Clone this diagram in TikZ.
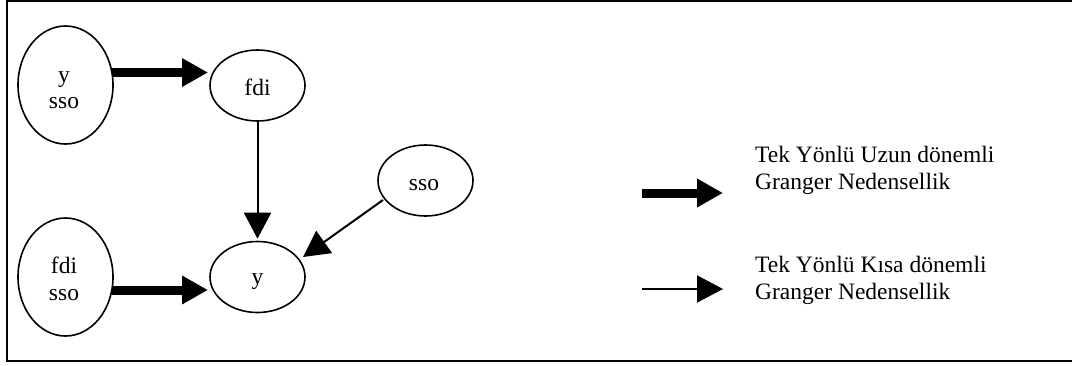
\documentclass[tikz,border=0pt]{standalone}
\usepackage{fontspec}
\setmainfont{Liberation Serif}
\usetikzlibrary{arrows.meta,shapes.geometric,calc}
\begin{document}
\begin{tikzpicture}[x=1pt,y=-1pt,
  oval/.style={draw,ellipse,line width=1.6pt,inner sep=0pt},
  bigoval/.style={oval,minimum width=95pt,minimum height=118pt},
  smalloval/.style={oval,minimum width=95pt,minimum height=71pt},
  lab/.style={font=\fontsize{23.5}{27}\selectfont,inner sep=0pt,anchor=base},
  legtext/.style={font=\fontsize{23.5}{27}\selectfont,inner sep=0pt,anchor=base west},
  strong/.style={line width=9pt,-{Triangle[length=26pt,width=27pt]}},
  weak/.style={line width=2pt,-{Triangle[length=26pt,width=27pt]}}]
\useasboundingbox (0,0) rectangle (1072,365);
\draw[line width=2pt] (7,1) rectangle (1085,361);
% ellipses
\node[bigoval] (A) at (65.5,85) {};
\node[bigoval] (B) at (65.5,277) {};
\node[smalloval] (F) at (257.5,85.5) {};
\node[smalloval] (Y) at (257.5,277) {};
\node[smalloval] (S) at (425.5,180.5) {};
% texts
\node[lab] (A1) at (64,82) {y};
\node[lab] (A2) at (64,108) {sso};
\node[lab] (B1) at (64,273) {fdi};
\node[lab] (B2) at (64,300) {sso};
\node[lab] (F1) at (257.5,95) {fdi};
\node[lab] (Y1) at (257.5,284) {y};
\node[lab] (S1) at (424,190) {sso};
% connectors
\draw[strong] ($(A.center)+(46.5,-12.5)$) -- ($(F.center)+(-49.5,-13)$);
\draw[strong] ($(B.center)+(46.5,13)$) -- ($(Y.center)+(-49.5,13)$);
\draw[weak] (F.south) -- ($(Y.north)+(0,-2)$);
\draw[weak] ($(S.center)+(-42.5,19.5)$) -- ($(Y.center)+(45.5,-20)$);
% legend
\coordinate (L1s) at (642,193);
\coordinate (L1e) at (723,193);
\coordinate (L2s) at (642,289);
\coordinate (L2e) at (723,289);
\draw[strong] (L1s) -- (L1e);
\draw[weak] (L2s) -- (L2e);
\node[legtext] (T1a) at (755,162) {Tek Yönlü Uzun dönemli};
\node[legtext] (T1b) at (755,189) {Granger Nedensellik};
\node[legtext] (T2a) at (755,272) {Tek Yönlü Kısa dönemli};
\node[legtext] (T2b) at (755,299) {Granger Nedensellik};
\end{tikzpicture}
\end{document}
